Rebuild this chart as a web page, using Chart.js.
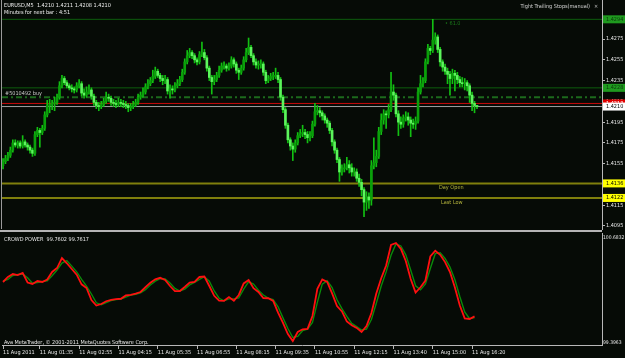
<!DOCTYPE html>
<html><head><meta charset="utf-8">
<script src="https://cdn.jsdelivr.net/npm/chart.js@4/dist/chart.umd.min.js"></script>
<style>
html,body{margin:0;padding:0;background:#060b06;width:625px;height:358px;overflow:hidden;position:relative}
#main{position:absolute;left:0;top:-8px}
#sub{position:absolute;left:0;top:225px}
.sep{position:absolute;left:0;top:230px;width:602px;height:2px;background:#b4b4b4}
.lb{position:absolute;left:1px;top:0;width:1px;height:229px;background:#9a9a9a}
</style></head><body>
<canvas id="main" width="625" height="246"></canvas>
<canvas id="sub" width="625" height="133"></canvas>
<div class="lb"></div><div class="sep"></div>
<script>
// ---------- DATA ----------
const firstOpen = 1.4153;
const closes = [
1.4157,1.4160,1.4163,1.4168,1.4175,1.4173,1.4175,1.4172,1.4176,1.4173,
1.4171,1.4168,1.4165,1.4183,1.4187,1.4185,1.4189,1.4202,1.4211,1.4212,
1.4213,1.4214,1.4219,1.4230,1.4237,1.4233,1.4230,1.4228,1.4227,1.4226,
1.4230,1.4232,1.4223,1.4221,1.4224,1.4226,1.4220,1.4214,1.4211,1.4210,
1.4212,1.4215,1.4219,1.4218,1.4214,1.4213,1.4212,1.4214,1.4213,1.4212,
1.4211,1.4209,1.4210,1.4212,1.4214,1.4219,1.4221,1.4224,1.4229,1.4232,
1.4235,1.4239,1.4244,1.4240,1.4237,1.4235,1.4236,1.4225,1.4227,1.4226,
1.4230,1.4232,1.4236,1.4243,1.4253,1.4259,1.4262,1.4259,1.4255,1.4253,
1.4260,1.4262,1.4257,1.4247,1.4238,1.4234,1.4236,1.4240,1.4245,1.4249,
1.4249,1.4247,1.4249,1.4255,1.4251,1.4245,1.4243,1.4247,1.4255,1.4262,
1.4267,1.4259,1.4253,1.4250,1.4250,1.4251,1.4243,1.4235,1.4237,1.4239,
1.4239,1.4240,1.4236,1.4219,1.4207,1.4192,1.4178,1.4172,1.4169,1.4175,
1.4182,1.4184,1.4185,1.4183,1.4180,1.4182,1.4193,1.4205,1.4206,1.4204,
1.4201,1.4197,1.4194,1.4187,1.4176,1.4168,1.4159,1.4147,1.4150,1.4151,
1.4154,1.4151,1.4147,1.4147,1.4141,1.4137,1.4130,1.4118,1.4123,1.4120,
1.4153,1.4156,1.4162,1.4186,1.4197,1.4203,1.4202,1.4207,1.4224,1.4221,
1.4203,1.4195,1.4193,1.4199,1.4200,1.4197,1.4194,1.4193,1.4196,1.4224,
1.4232,1.4235,1.4253,1.4266,1.4264,1.4274,1.4277,1.4265,1.4253,1.4248,
1.4244,1.4241,1.4237,1.4242,1.4240,1.4236,1.4233,1.4232,1.4233,1.4230,
1.4221,1.4213,1.4211,1.4210];
const highs = [
1.4160,1.4163,1.4166,1.4171,1.4178,1.4178,1.4177,1.4177,1.4182,1.4178,
1.4175,1.4173,1.4170,1.4186,1.4190,1.4189,1.4192,1.4205,1.4216,1.4217,
1.4216,1.4219,1.4222,1.4234,1.4240,1.4239,1.4235,1.4232,1.4231,1.4229,
1.4233,1.4236,1.4234,1.4227,1.4229,1.4231,1.4228,1.4222,1.4216,1.4214,
1.4215,1.4218,1.4224,1.4222,1.4220,1.4217,1.4216,1.4218,1.4217,1.4216,
1.4215,1.4213,1.4213,1.4215,1.4217,1.4222,1.4224,1.4228,1.4232,1.4236,
1.4238,1.4245,1.4248,1.4246,1.4242,1.4240,1.4240,1.4238,1.4231,1.4230,
1.4233,1.4236,1.4239,1.4246,1.4256,1.4264,1.4266,1.4264,1.4261,1.4257,
1.4263,1.4272,1.4265,1.4259,1.4249,1.4240,1.4240,1.4243,1.4249,1.4252,
1.4253,1.4251,1.4252,1.4258,1.4257,1.4253,1.4247,1.4250,1.4258,1.4266,
1.4276,1.4269,1.4261,1.4256,1.4254,1.4255,1.4253,1.4245,1.4240,1.4242,
1.4243,1.4247,1.4243,1.4238,1.4221,1.4209,1.4194,1.4180,1.4175,1.4178,
1.4185,1.4188,1.4192,1.4188,1.4186,1.4186,1.4196,1.4213,1.4211,1.4209,
1.4206,1.4203,1.4199,1.4196,1.4189,1.4178,1.4170,1.4161,1.4154,1.4155,
1.4161,1.4158,1.4155,1.4151,1.4150,1.4145,1.4140,1.4132,1.4128,1.4127,
1.4158,1.4180,1.4168,1.4190,1.4203,1.4207,1.4206,1.4212,1.4243,1.4231,
1.4223,1.4206,1.4200,1.4202,1.4205,1.4204,1.4200,1.4198,1.4200,1.4228,
1.4240,1.4238,1.4256,1.4270,1.4268,1.4294,1.4281,1.4279,1.4267,1.4255,
1.4251,1.4247,1.4244,1.4246,1.4245,1.4243,1.4239,1.4238,1.4237,1.4235,
1.4232,1.4224,1.4215,1.4211];
const lows = [
1.4150,1.4155,1.4158,1.4161,1.4166,1.4171,1.4170,1.4170,1.4170,1.4171,
1.4168,1.4165,1.4162,1.4163,1.4181,1.4171,1.4183,1.4187,1.4200,1.4204,
1.4207,1.4206,1.4212,1.4217,1.4228,1.4231,1.4228,1.4226,1.4224,1.4223,
1.4224,1.4228,1.4220,1.4218,1.4219,1.4222,1.4217,1.4211,1.4208,1.4206,
1.4208,1.4210,1.4213,1.4215,1.4211,1.4210,1.4209,1.4210,1.4210,1.4209,
1.4208,1.4205,1.4206,1.4208,1.4210,1.4212,1.4217,1.4219,1.4222,1.4227,
1.4230,1.4233,1.4237,1.4238,1.4234,1.4231,1.4232,1.4222,1.4218,1.4222,
1.4224,1.4228,1.4230,1.4234,1.4241,1.4251,1.4257,1.4256,1.4252,1.4250,
1.4251,1.4258,1.4255,1.4244,1.4235,1.4222,1.4231,1.4234,1.4238,1.4243,
1.4246,1.4244,1.4245,1.4247,1.4248,1.4242,1.4236,1.4241,1.4245,1.4253,
1.4260,1.4257,1.4250,1.4247,1.4246,1.4247,1.4240,1.4232,1.4233,1.4235,
1.4236,1.4237,1.4233,1.4216,1.4204,1.4189,1.4175,1.4168,1.4158,1.4166,
1.4173,1.4180,1.4181,1.4179,1.4175,1.4177,1.4180,1.4191,1.4202,1.4200,
1.4197,1.4194,1.4190,1.4184,1.4172,1.4165,1.4156,1.4138,1.4144,1.4147,
1.4149,1.4146,1.4143,1.4143,1.4138,1.4133,1.4124,1.4104,1.4110,1.4112,
1.4115,1.4150,1.4152,1.4160,1.4183,1.4193,1.4189,1.4199,1.4205,1.4216,
1.4200,1.4182,1.4189,1.4190,1.4196,1.4192,1.4181,1.4189,1.4188,1.4194,
1.4222,1.4229,1.4233,1.4251,1.4260,1.4262,1.4270,1.4262,1.4249,1.4244,
1.4241,1.4232,1.4221,1.4232,1.4225,1.4232,1.4229,1.4229,1.4226,1.4225,
1.4214,1.4206,1.4204,1.4208];
const opens = closes.map((c, i) => i === 0 ? firstOpen : closes[i - 1]);

const priceTicks = [1.4095,1.4115,1.4135,1.4155,1.4175,1.4195,1.4215,1.4235,1.4255,1.4275,1.4295];
const levelValues = [1.4294, 1.4228, 1.4219, 1.4213, 1.4210, 1.4136, 1.4122];
const axisMarkValues = [1.4294, 1.4228, 1.4213, 1.4210, 1.4136, 1.4122];

const timeTickIndex = [0,15,31,47,63,79,95,111,127,143,159,175,191];
const timeTickLabels = ["11 Aug 2011","11 Aug 01:35","11 Aug 02:55","11 Aug 04:15","11 Aug 05:35",
  "11 Aug 06:55","11 Aug 08:15","11 Aug 09:35","11 Aug 10:55","11 Aug 12:15","11 Aug 13:40",
  "11 Aug 15:00","11 Aug 16:20"];

// CROWD POWER, one value every 2 bars
const CROWD_STEP = 2;
const crowdRed = [
100.139,100.200,100.236,100.224,100.249,100.133,100.115,100.151,100.139,100.169,
100.261,100.309,100.431,100.367,100.297,100.228,100.111,100.066,99.920,99.853,
99.871,99.905,99.920,99.930,99.935,99.975,99.983,99.998,100.017,100.075,
100.129,100.172,100.190,100.163,100.090,100.029,100.029,100.078,100.131,100.139,
100.200,100.206,100.090,99.971,99.911,99.910,99.956,99.910,99.981,100.122,
100.163,100.064,100.017,99.944,99.941,99.908,99.765,99.640,99.506,99.421,
99.530,99.563,99.569,99.725,100.056,100.171,100.139,100.000,99.847,99.781,
99.658,99.613,99.580,99.530,99.603,99.762,99.998,100.184,100.340,100.590,
100.614,100.543,100.395,100.176,100.011,100.075,100.157,100.450,100.519,100.470,
100.381,100.261,100.072,99.853,99.696,99.689,99.720];
const crowdGreen = [
100.150,100.170,100.218,100.230,100.237,100.190,100.124,100.133,100.145,100.154,
100.215,100.285,100.370,100.399,100.332,100.262,100.170,100.088,99.993,99.886,
99.862,99.888,99.912,99.925,99.932,99.955,99.979,99.990,100.008,100.046,
100.102,100.150,100.181,100.177,100.127,100.060,100.029,100.053,100.104,100.135,
100.170,100.203,100.148,100.030,99.941,99.910,99.933,99.933,99.945,100.051,
100.142,100.113,100.040,99.980,99.942,99.924,99.837,99.702,99.573,99.463,
99.476,99.546,99.566,99.647,99.890,100.113,100.155,100.070,99.923,99.814,
99.720,99.635,99.596,99.555,99.566,99.682,99.880,100.091,100.262,100.465,
100.602,100.578,100.469,100.285,100.093,100.043,100.116,100.303,100.484,100.494,
100.425,100.321,100.166,99.962,99.775,99.692,99.705];
const crowdTicks = [99.3963, 100.6832];

// ---------- RANGES / STYLES ----------
const X_MIN = -0.41, X_MAX = 243.9;
const PRICE_MIN = 1.40921, PRICE_MAX = 1.43126;
const CROWD_MIN = 99.3720, CROWD_MAX = 100.7355;
const FONT = '"DejaVu Sans Condensed", "DejaVu Sans", sans-serif';
const FS = 5.5;
const AXIS = '#b8b8b8';
const TXT = '#e8e8e8';
const BULL = '#0aa00a', BEAR = '#5cf55c', WICK = '#12c012';
const levelStyles = [
  {color:'#0d5e0d', width:1, dash:[]},
  {color:'#0d5e0d', width:1, dash:[]},
  {color:'#1c6a1c', width:2, dash:[6,3,2,3]},
  {color:'#c80a0a', width:1, dash:[]},
  {color:'#a0a0a0', width:1, dash:[]},
  {color:'#80800c', width:2, dash:[]},
  {color:'#80800c', width:2, dash:[]}
];
const markStyles = [
  {bg:'#1f9a1f', fg:'#0a3a0a'}, {bg:'#1f9a1f', fg:'#0a3a0a'},
  {bg:'#e00000', fg:'#ffffff'}, {bg:'#ffffff', fg:'#000000'},
  {bg:'#ffff00', fg:'#000000'}, {bg:'#ffff00', fg:'#000000'}
];

Chart.defaults.font.family = FONT;
Chart.defaults.font.size = FS;
Chart.defaults.color = TXT;

const fontStr = FS + 'px ' + FONT;

// ---------- MAIN CHART ----------
const mainOverlay = {
  id: 'mainOverlay',
  afterDraw(chart) {
    const {ctx, chartArea} = chart;
    const y = chart.scales.y;
    const oy = chartArea.top;
    ctx.save();
    ctx.font = fontStr;
    ctx.textBaseline = 'middle';
    ctx.textAlign = 'left';
    ctx.fillStyle = '#f0f0f0';
    ctx.fillText('EURUSD,M5  1.4210 1.4211 1.4208 1.4210', 4, oy + 6);
    ctx.fillText('Minutes for next bar : 4:51', 4, oy + 13);
    ctx.fillStyle = '#d4d4d4';
    ctx.textAlign = 'right';
    ctx.fillText('Tight Trailing Stops(manual)', 590, oy + 6.5);
    ctx.textAlign = 'left';
    ctx.fillText('×', 594, oy + 6.5);
    // level texts
    ctx.fillStyle = '#c8c8c8';
    ctx.fillText('#5010492 buy', 5, y.getPixelForValue(levelValues[2]) - 4);
    ctx.fillStyle = '#1a7a1a';
    ctx.fillText('• 61.0', 445, y.getPixelForValue(levelValues[0]) + 4);
    ctx.fillStyle = '#b4b43c';
    ctx.fillText('Day Open', 439, y.getPixelForValue(levelValues[5]) + 4.5);
    ctx.fillText('Last Low', 441, y.getPixelForValue(levelValues[6]) + 4.5);
    // right-axis boxed prices
    axisMarkValues.forEach((v, i) => {
      const py = y.getPixelForValue(v);
      ctx.fillStyle = markStyles[i].bg;
      ctx.fillRect(chartArea.right + 1, py - 4, 22, 8);
      ctx.fillStyle = markStyles[i].fg;
      ctx.fillText(v.toFixed(4), chartArea.right + 4, py);
    });
    ctx.restore();
  }
};

const levelDatasets = levelValues.map((v, i) => ({
  type: 'line', order: 10,
  data: [{x: X_MIN, y: v}, {x: X_MAX, y: v}],
  borderColor: levelStyles[i].color, borderWidth: levelStyles[i].width,
  borderDash: levelStyles[i].dash, pointRadius: 0, fill: false
}));

new Chart(document.getElementById('main'), {
  type: 'bar',
  data: {
    datasets: [
      {
        type: 'bar', order: 1, grouped: false,
        data: closes.map((c, i) => ({x: i, y: [opens[i], c]})),
        backgroundColor: (ctx) => closes[ctx.dataIndex] >= opens[ctx.dataIndex] ? BULL : BEAR,
        barThickness: 2, minBarLength: 1, borderWidth: 0
      },
      {
        type: 'bar', order: 2, grouped: false,
        data: closes.map((c, i) => ({x: i, y: [lows[i], highs[i]]})),
        backgroundColor: WICK, barThickness: 1, minBarLength: 1, borderWidth: 0
      },
      ...levelDatasets
    ]
  },
  options: {
    responsive: false, animation: false, devicePixelRatio: 1, events: [],
    layout: {padding: {left: 2, right: 0, top: 8, bottom: 9}},
    plugins: {legend: {display: false}, tooltip: {enabled: false}},
    scales: {
      x: {type: 'linear', min: X_MIN, max: X_MAX, offset: false, display: false},
      y: {
        position: 'right', min: PRICE_MIN, max: PRICE_MAX, beginAtZero: false,
        afterFit(s) { s.width = 23; },
        afterBuildTicks(s) { s.ticks = priceTicks.map(v => ({value: v})); },
        ticks: {color: TXT, padding: 1, autoSkip: false, callback: v => Number(v).toFixed(4)},
        grid: {drawOnChartArea: false, drawTicks: true, tickLength: 3, color: AXIS},
        border: {display: true, color: AXIS, width: 1}
      }
    }
  },
  plugins: [mainOverlay]
});

// ---------- SUB CHART ----------
const subOverlay = {
  id: 'subOverlay',
  afterDraw(chart) {
    const {ctx, chartArea} = chart;
    const oy = chartArea.top;
    ctx.save();
    ctx.font = fontStr;
    ctx.textBaseline = 'middle';
    ctx.textAlign = 'left';
    ctx.fillStyle = '#e8e8e8';
    ctx.fillText('CROWD POWER  99.7602 99.7617', 4, oy + 6.3);
    ctx.fillText('Ava MetaTrader, © 2001-2011 MetaQuotes Software Corp.', 4, oy + 109.3);
    ctx.restore();
  }
};

new Chart(document.getElementById('sub'), {
  type: 'line',
  data: {
    datasets: [
      {
        order: 1, data: crowdRed.map((v, k) => ({x: k * CROWD_STEP, y: v})),
        borderColor: '#ff1010', borderWidth: 1.8, pointRadius: 0, tension: 0, fill: false
      },
      {
        order: 2, data: crowdGreen.map((v, k) => ({x: k * CROWD_STEP, y: v})),
        borderColor: '#0a8a0a', borderWidth: 1.4, pointRadius: 0, tension: 0, fill: false
      }
    ]
  },
  options: {
    responsive: false, animation: false, devicePixelRatio: 1, events: [],
    layout: {padding: {left: 2, right: 0, top: 8, bottom: 0}},
    plugins: {legend: {display: false}, tooltip: {enabled: false}},
    scales: {
      x: {
        type: 'linear', min: X_MIN, max: X_MAX, offset: false,
        afterFit(s) { s.height = 13; },
        afterBuildTicks(s) { s.ticks = timeTickIndex.map(v => ({value: v})); },
        ticks: {color: TXT, padding: 0, autoSkip: false, maxRotation: 0, minRotation: 0, align: 'start',
          callback: (v, idx) => timeTickLabels[idx]},
        grid: {drawOnChartArea: false, drawTicks: true, tickLength: 4, color: AXIS},
        border: {display: true, color: AXIS, width: 1}
      },
      y: {
        position: 'right', min: CROWD_MIN, max: CROWD_MAX,
        afterFit(s) { s.width = 23; },
        afterBuildTicks(s) { s.ticks = crowdTicks.map(v => ({value: v})); },
        ticks: {color: TXT, padding: 0, autoSkip: false, font: {size: 5},
          callback: v => Number(v).toFixed(4)},
        grid: {drawOnChartArea: false, drawTicks: true, tickLength: 1, color: AXIS},
        border: {display: true, color: AXIS, width: 1}
      }
    }
  },
  plugins: [subOverlay]
});
</script></body></html>
